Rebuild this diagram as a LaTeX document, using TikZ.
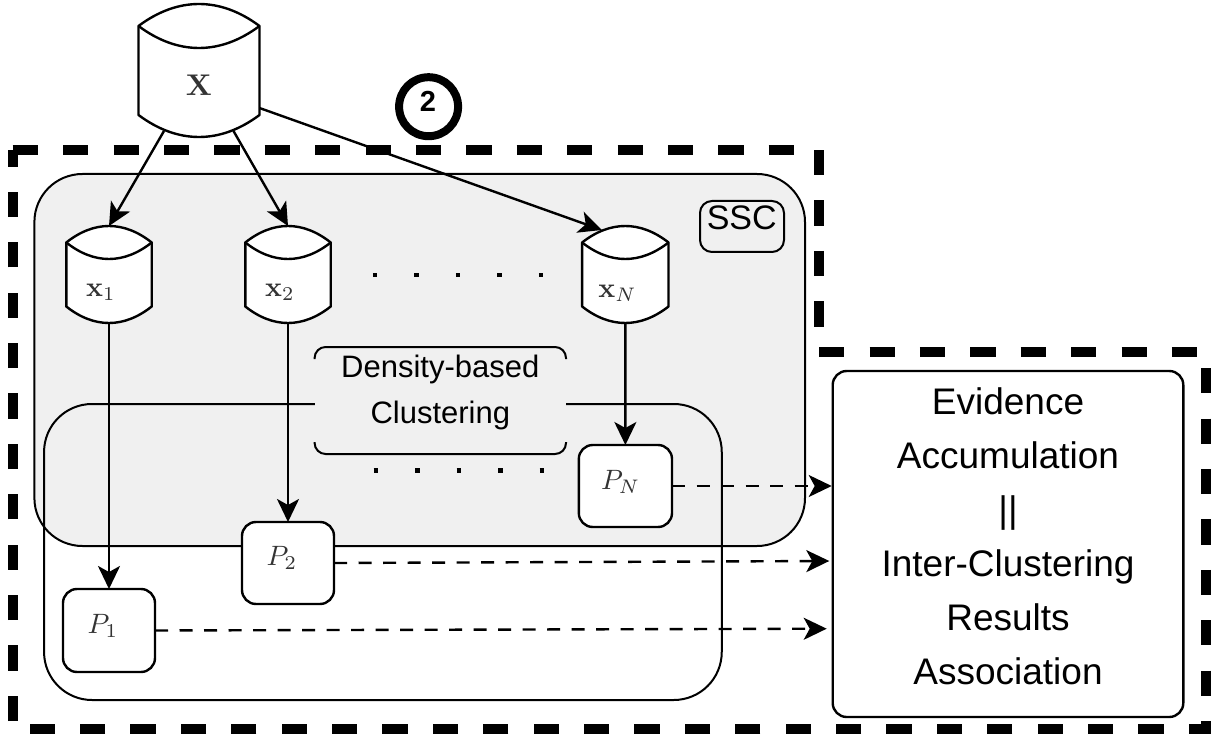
\documentclass[tikz,border=0pt]{standalone}
\usepackage[no-math]{fontspec}
\setmainfont{Liberation Sans}
\usepackage{amsmath,amsfonts,amssymb}
\usepackage{xcolor}
\usetikzlibrary{arrows.meta}
\definecolor{sscgray}{HTML}{F0F0F0}
\definecolor{mathgray}{HTML}{333333}
\tikzset{
	every node/.style={inner sep=0pt, outer sep=0pt},
	bigdash/.style={line width=10pt, dash pattern=on 25.2pt off 25.2pt},
	bigbox/.style={draw, line width=2pt, rounded corners=48pt},
	resbox/.style={draw, fill=white, line width=2.4pt, rounded corners=14pt},
	cylline/.style={draw, fill=white, line width=2.4pt, line join=round},
	link/.style={line width=2.4pt, -{Stealth[length=23pt,width=22pt,inset=6pt]}},
	dashlink/.style={link, dash pattern=on 13pt off 11.5pt},
	dotrow/.style={line width=4.5pt, dash pattern=on 4.5pt off 37pt},
	mathlabel/.style={text=mathgray, scale=2.8},
	textlabel/.style={font=\fontsize{31}{46}\selectfont, align=center}
}
\newcommand{\datacyl}[6]{
	\begin{scope}[shift={(#2,#3)}]
		\path[cylline] (-#4,#6) .. controls (-0.35*#4,-#6/3) and (0.35*#4,-#6/3) .. (#4,#6)
			-- (#4,#5-#6) .. controls (0.35*#4,#5+#6/3) and (-0.35*#4,#5+#6/3) .. (-#4,#5-#6) -- cycle;
		\draw[line width=2.4pt] (-#4,#6) .. controls (-0.35*#4,7*#6/3) and (0.35*#4,7*#6/3) .. (#4,#6);
		\node (#1) [minimum width=2*#4 pt, minimum height=#5 pt] at (0,#5/2) {};
	\end{scope}
}

\begin{document}
\begin{tikzpicture}[x=1pt,y=-1pt]
	\useasboundingbox (0,0) rectangle (1215,735);
	\draw[bigdash] (12.7,150) -- (819,150) -- (819,351.6) -- (1205.7,351.6) -- (1205.7,729.3) -- (12.7,729.3) -- cycle;

	\node (ssc) [bigbox, fill=sscgray, minimum width=770.6pt, minimum height=372pt] at (419.7,360) {};
	\node (dbc) [bigbox, minimum width=677.7pt, minimum height=296pt] at (382.9,552) {};
	\node (dens) [fill=sscgray, minimum width=251.4pt, minimum height=107pt] at (440.3,400.5) {};
	\draw[line width=2pt, rounded corners=11pt] ([yshift=-12pt]dens.north west) -- (dens.north west) -- (dens.north east) -- ([yshift=-12pt]dens.north east);
	\draw[line width=2pt, rounded corners=11pt] ([yshift=12pt]dens.south west) -- (dens.south west) -- (dens.south east) -- ([yshift=12pt]dens.south east);
	\node (denstxt) [textlabel] at (440.3,392) {Density-based\\Clustering};

	\node (ssclabel) [draw, line width=2pt, rounded corners=12pt, minimum width=84pt, minimum height=51pt] at (742,226.5) {};
	\node (ssctxt) [font=\fontsize{34}{38}\selectfont] at (741.7,218) {SSC};

	\datacyl{X}{199}{4}{60.5}{133}{22}
	\datacyl{x1}{109}{226}{42.7}{97}{16.5}
	\datacyl{x2}{288}{226}{42.7}{97}{16.5}
	\datacyl{xN}{625.3}{226}{43.2}{97}{16.5}
	\node (Xtxt) [mathlabel, scale=1.07] at (199,85) {$\mathbf{X}$};
	\node (x1txt) [mathlabel] at (101,292) {$\mathbf{x}_1$};
	\node (x2txt) [mathlabel] at (280,292) {$\mathbf{x}_2$};
	\node (xNtxt) [mathlabel] at (617.6,293) {$\mathbf{x}_N$};

	\draw[dotrow] (372.8,275) -- (545,275);
	\draw[dotrow] (373.7,470.7) -- (545,470.7);

	\node (P1) [resbox, minimum width=92pt, minimum height=83pt] at (109,630.5) {};
	\node (P2) [resbox, minimum width=92pt, minimum height=82pt] at (288,563) {};
	\node (PN) [resbox, minimum width=93.2pt, minimum height=82pt] at (625.4,486) {};
	\node (P1txt) [mathlabel] at (103,626) {$P_1$};
	\node (P2txt) [mathlabel] at (282,558) {$P_2$};
	\node (PNtxt) [mathlabel] at (620.6,482) {$P_N$};

	\node (eac) [draw, fill=white, line width=2.4pt, rounded corners=14pt, minimum width=350.6pt, minimum height=346pt] at (1008,544) {};
	\node (eactxt) [font=\fontsize{37}{54}\selectfont, align=center] at (1008,536.5) {Evidence\\Accumulation\\||\\Inter-Clustering\\Results\\Association};

	\node (circ) [draw, circle, line width=8pt, minimum size=59pt] at (428.6,106.7) {};
	\node (circtxt) [font=\bfseries\fontsize{29}{32}\selectfont] at (428,101) {2};

	\draw[link] ([xshift=-35pt,yshift=6pt]X.south) -- (x1.north);
	\draw[link] ([xshift=34.5pt,yshift=6pt]X.south) -- (x2.north);
	\draw[link] ([yshift=-37.5pt]X.east) -- ([xshift=-23.5pt,yshift=-4pt]xN.north);
	\draw[link] (x1.south) -- (P1.north);
	\draw[link] (x2.south) -- (P2.north);
	\draw[link] (xN.south) -- (PN.north);
	\draw[dashlink] (PN.east) -- ([xshift=-1pt]eac.west |- PN.east);
	\draw[dashlink] (P2.east) -- ([xshift=-3.4pt,yshift=2pt]eac.west |- P2.east);
	\draw[dashlink] (P1.east) -- ([xshift=-6pt,yshift=1.8pt]eac.west |- P1.east);
\end{tikzpicture}
\end{document}
